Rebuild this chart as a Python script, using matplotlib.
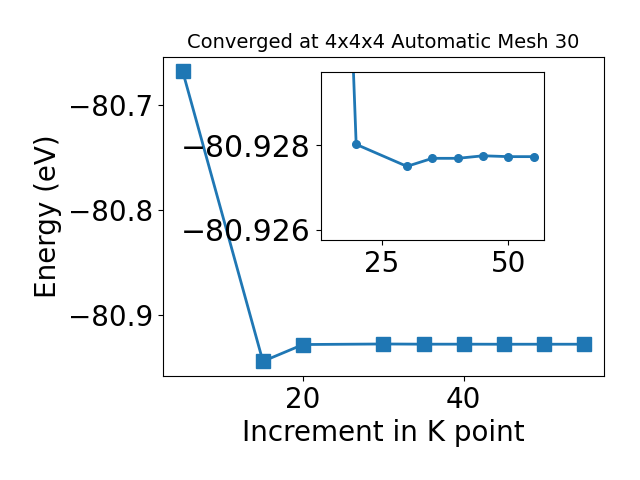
import matplotlib
matplotlib.use("Agg")
import matplotlib.pyplot as plt

# K point increments and total energies (eV)
kpoints = [5, 15, 20, 30, 35, 40, 45, 50, 55]
energies = [-80.668, -80.944, -80.92802, -80.9275, -80.92769, -80.92769,
            -80.92775, -80.92773, -80.92773]

inset_kpoints = kpoints[1:]
inset_energies = energies[1:]

fig = plt.figure(figsize=(6.4, 4.8), dpi=100)
ax = fig.add_axes([0.254, 0.217, 0.69, 0.665])
ax.plot(kpoints, energies, marker="s", markersize=10, linewidth=2, color="#1f77b4")
ax.set_xlabel("Increment in K point", fontsize=20)
ax.set_ylabel("Energy (eV)", fontsize=20)
ax.tick_params(labelsize=20)
ax.set_title("Converged at 4x4x4 Automatic Mesh 30", fontsize=14)

# zoomed inset (y axis reversed)
axins = fig.add_axes([0.501, 0.5, 0.349, 0.35])
axins.plot(inset_kpoints, inset_energies, marker="o", markersize=5.5,
           linewidth=2, color="#1f77b4")
axins.set_ylim(-80.92576, -80.92973)
axins.set_yticks([-80.928, -80.926])
axins.ticklabel_format(axis="y", useOffset=False)
axins.tick_params(axis="x", labelsize=20)
axins.tick_params(axis="y", labelsize=21.5)

fig.savefig("out.png", dpi=100)
